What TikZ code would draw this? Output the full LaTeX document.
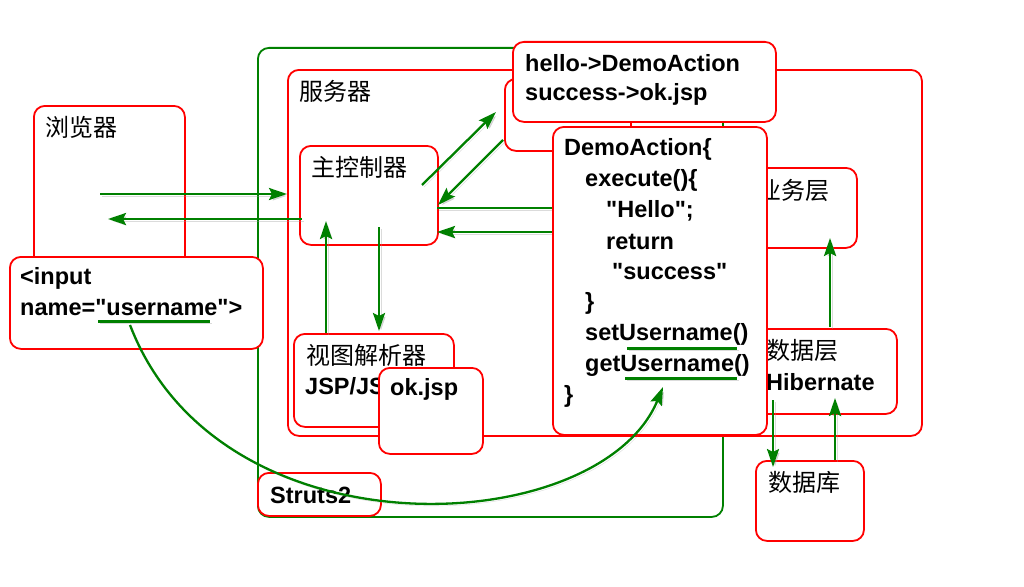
\documentclass[tikz,border=0pt]{standalone}
\usepackage{fontspec}
\setmainfont{Liberation Sans}[Ligatures=TeXOff]
\newfontfamily\cjk{Noto Sans CJK SC}
\usetikzlibrary{arrows.meta}
\definecolor{rd}{RGB}{255,0,0}
\definecolor{gr}{RGB}{0,128,0}
\begin{document}
\begin{tikzpicture}[x=1pt,y=-1pt,
  box/.style={draw=rd, line width=1.8pt, rounded corners=11pt, fill=white, inner sep=0pt, anchor=north west},
  openbox/.style={draw=rd, line width=1.8pt, rounded corners=11pt, inner sep=0pt, anchor=north west},
  gbox/.style={draw=gr, line width=1.8pt, rounded corners=11pt, inner sep=0pt, anchor=north west},
  en/.style={font=\fontsize{23.5}{31}\selectfont\bfseries, anchor=west, inner sep=0pt},
  zh/.style={font=\fontsize{24}{31}\selectfont\cjk, anchor=west, inner sep=0pt},
  shadowed/.style={preaction={draw=black!40, opacity=0.35, transform canvas={shift={(2pt,-2pt)}}}},
  arr/.style={draw=gr, line width=2.3pt, shadowed, -{Stealth[length=18pt,width=12pt,inset=3pt]}},
  ln/.style={draw=gr, line width=2.3pt, shadowed},
  uline/.style={draw=gr, line width=3pt, shadowed}]
\useasboundingbox (0,0) rectangle (1024,586);
\fill[white] (0,0) rectangle (1024,586);
% browser
\node[box, minimum width=151pt, minimum height=200pt] (browser) at (33,105) {};
\node[zh] (tbrowser) at (45,127) {浏览器};
% struts2 outer
\node[gbox, minimum width=465pt, minimum height=469pt] (struts) at (257,47) {};
% server
\node[openbox, minimum width=634pt, minimum height=366pt] (server) at (287,69) {};
\node[zh] (tserver) at (299,91) {服务器};
% hidden box behind config
\node[box, minimum width=126pt, minimum height=72pt] (hidden) at (504,78) {};
% main controller
\node[box, minimum width=138pt, minimum height=99pt] (ctrl) at (299,145) {};
\node[zh] (tctrl) at (311,167) {主控制器};
% business layer
\node[box, minimum width=111pt, minimum height=80pt] (biz) at (745,167) {};
\node[zh] (tbiz) at (757,190) {业务层};
% data layer
\node[box, minimum width=151pt, minimum height=85pt] (dal) at (745,328) {};
\node[zh] (tdal) at (766,350) {数据层};
\node[en] (thib) at (766,382) {Hibernate};
% view resolver
\node[box, minimum width=160pt, minimum height=93pt] (view) at (293,333) {};
\node[zh] (tview) at (306,355) {视图解析器};
\node[en] (tjsp) at (305,386) {JSP/JS};
% ok.jsp
\node[box, minimum width=104pt, minimum height=86pt] (okjsp) at (378,367) {};
\node[en] (tok) at (390,389) {ok.jsp};
% struts2 label
\node[box, minimum width=123pt, minimum height=43pt] (slabel) at (257,472) {};
\node[en] (tslabel) at (270,495) {Struts2};
% database
\node[box, minimum width=108pt, minimum height=80pt] (db) at (755,460) {};
\node[zh] (tdb) at (768,482) {数据库};
% input
\node[box, minimum width=253pt, minimum height=92pt] (input) at (9,256) {};
\node[en] (tin1) at (20,278) {<input};
\node[en] (tin2) at (20,308) {name="username">};
% coordinates
\coordinate (a1s) at (100,194); \coordinate (a1e) at (287,194);
\coordinate (a2s) at (302,219); \coordinate (a2e) at (108,219);
\coordinate (a3s) at (422,185); \coordinate (a3e) at (496,112);
\coordinate (a4s) at (503,140); \coordinate (a4e) at (438,205);
\coordinate (l1s) at (437,208); \coordinate (l1e) at (555,208);
\coordinate (a5s) at (555,232); \coordinate (a5e) at (437,232);
\coordinate (a6s) at (326,333); \coordinate (a6e) at (326,221);
\coordinate (a7s) at (379,227); \coordinate (a7e) at (379,331);
\coordinate (a8s) at (830,327); \coordinate (a8e) at (830,238);
\coordinate (a9s) at (773,400); \coordinate (a9e) at (773,467);
\coordinate (a10s) at (835,460); \coordinate (a10e) at (835,398);
\coordinate (cs) at (130,325); \coordinate (ce) at (663,387);
% arrows
\draw[arr] (a1s) -- (a1e);
\draw[arr] (a2s) -- (a2e);
\draw[arr] (a3s) -- (a3e);
\draw[arr] (a4s) -- (a4e);
\draw[ln] (l1s) -- (l1e);
\draw[arr] (a5s) -- (a5e);
\draw[arr] (a6s) -- (a6e);
\draw[arr] (a7s) -- (a7e);
\draw[arr] (a8s) -- (a8e);
\draw[arr] (a9s) -- (a9e);
\draw[arr] (a10s) -- (a10e);
% config box
\node[box, minimum width=263pt, minimum height=80pt] (conf) at (512,41) {};
\node[en] (tconf1) at (525,63) {hello->DemoAction};
\node[en] (tconf2) at (525,94) {success->ok.jsp};
% DemoAction
\node[box, minimum width=214pt, minimum height=308pt] (demo) at (552,126) {};
\node[en] (d1) at (564,149) {DemoAction\{};
\node[en] (d2) at (585,180) {execute()\{};
\node[en] (d3) at (606,211) {"Hello";};
\node[en] (d4) at (606,242) {return};
\node[en] (d5) at (612,272) {"success"};
\node[en] (d6) at (585,303) {\}};
\node[en] (d7) at (585,334) {setUsername()};
\node[en] (d8) at (585,365) {getUsername()};
\node[en] (d9) at (564,396) {\}};
% underlines
\coordinate (u1s) at (98,321); \coordinate (u1e) at (210,321);
\coordinate (u2s) at (627,348); \coordinate (u2e) at (737,348);
\coordinate (u3s) at (625,378); \coordinate (u3e) at (737,378);
\draw[uline] (u1s) -- (u1e);
\draw[uline] (u2s) -- (u2e);
\draw[uline] (u3s) -- (u3e);
% curve
\draw[arr] (cs) .. controls (220,560) and (600,540) .. (ce);
\end{tikzpicture}
\end{document}
